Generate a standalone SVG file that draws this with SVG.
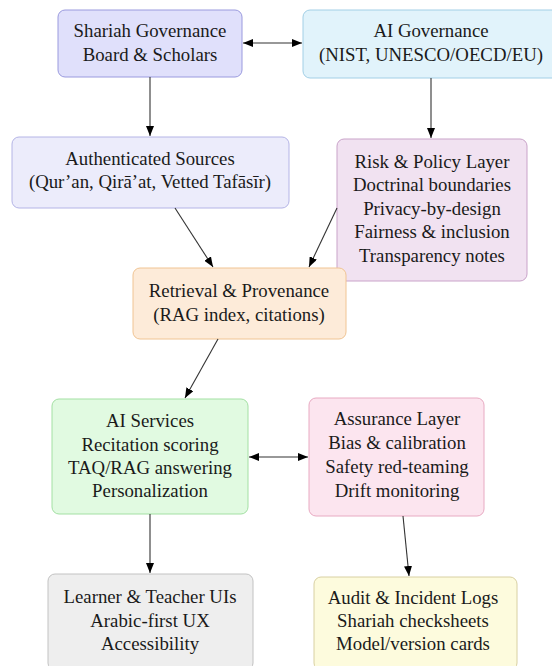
<svg xmlns="http://www.w3.org/2000/svg" width="552" height="666" viewBox="0 0 552 666" font-family="'Liberation Serif', 'DejaVu Serif', serif">
<style>
text{font-family:'Liberation Serif','DejaVu Serif',serif;font-size:18.8px;fill:#1a1a1a;text-anchor:middle}
.c line{stroke:#333;stroke-width:1.1;fill:none}
rect{stroke-width:1}
</style>
<defs>
<marker id="ah" viewBox="0 0 10 8" refX="10" refY="4" markerWidth="10" markerHeight="8" markerUnits="userSpaceOnUse" orient="auto-start-reverse">
<path d="M0,0 L10,4 L0,8 z" fill="#000"/>
</marker>
</defs>
<rect width="552" height="666" fill="#fff"/>
<g id="n1">
<rect x="58" y="10" width="184" height="67" rx="7" fill="#e0e0fb" stroke="#9a9ade"/>
<text x="150" y="37">Shariah Governance</text>
<text x="150" y="61">Board &amp; Scholars</text>
</g>
<g id="n2">
<rect x="303" y="10" width="262" height="68" rx="7" fill="#e1f3fb" stroke="#a2cfe6"/>
<text x="431" y="37">AI Governance</text>
<text x="431" y="61">(NIST, UNESCO/OECD/EU)</text>
</g>
<g id="n3">
<rect x="12" y="137" width="277" height="71" rx="7" fill="#ececfb" stroke="#b4b4e6"/>
<text x="150" y="165">Authenticated Sources</text>
<text x="150" y="188">(Qur’an, Qirā’at, Vetted Tafāsīr)</text>
</g>
<g id="n5">
<rect x="337" y="139" width="190" height="142" rx="7" fill="#f1e2f1" stroke="#c9a3c9"/>
<text x="432" y="168">Risk &amp; Policy Layer</text>
<text x="432" y="191">Doctrinal boundaries</text>
<text x="432" y="215">Privacy-by-design</text>
<text x="432" y="238">Fairness &amp; inclusion</text>
<text x="432" y="262">Transparency notes</text>
</g>
<g id="n4">
<rect x="133" y="268" width="213" height="71" rx="7" fill="#fdebd9" stroke="#f0c493"/>
<text x="239" y="297">Retrieval &amp; Provenance</text>
<text x="239" y="321">(RAG index, citations)</text>
</g>
<g id="n6">
<rect x="52" y="399" width="196" height="115" rx="7" fill="#e1fae1" stroke="#a3e0a3"/>
<text x="150" y="427">AI Services</text>
<text x="150" y="451">Recitation scoring</text>
<text x="150" y="474">TAQ/RAG answering</text>
<text x="150" y="497">Personalization</text>
</g>
<g id="n7">
<rect x="309" y="398" width="175" height="118" rx="7" fill="#fce5ef" stroke="#e8aac2"/>
<text x="397" y="425">Assurance Layer</text>
<text x="397" y="449">Bias &amp; calibration</text>
<text x="397" y="473">Safety red-teaming</text>
<text x="397" y="497">Drift monitoring</text>
</g>
<g id="n8">
<rect x="48" y="574" width="205" height="96" rx="7" fill="#eeeeee" stroke="#c2c2c2"/>
<text x="150" y="603">Learner &amp; Teacher UIs</text>
<text x="150" y="627">Arabic-first UX</text>
<text x="150" y="650">Accessibility</text>
</g>
<g id="n9">
<rect x="314" y="577" width="203" height="93" rx="7" fill="#fdfbdd" stroke="#d8d0a2"/>
<text x="413" y="604">Audit &amp; Incident Logs</text>
<text x="413" y="627">Shariah checksheets</text>
<text x="413" y="650">Model/version cards</text>
</g>
<g id="connectors" class="c">
<line x1="243" y1="43" x2="302" y2="43" marker-start="url(#ah)" marker-end="url(#ah)"/>
<line x1="150" y1="77" x2="150" y2="136" marker-end="url(#ah)"/>
<line x1="431" y1="78" x2="431" y2="138" marker-end="url(#ah)"/>
<line x1="175" y1="208" x2="213" y2="267" marker-end="url(#ah)"/>
<line x1="337" y1="208" x2="309" y2="267" marker-end="url(#ah)"/>
<line x1="218" y1="339" x2="185" y2="398" marker-end="url(#ah)"/>
<line x1="249" y1="457" x2="308" y2="457" marker-start="url(#ah)" marker-end="url(#ah)"/>
<line x1="150" y1="514" x2="150" y2="573" marker-end="url(#ah)"/>
<line x1="403" y1="516" x2="409" y2="576" marker-end="url(#ah)"/>
</g>
</svg>
